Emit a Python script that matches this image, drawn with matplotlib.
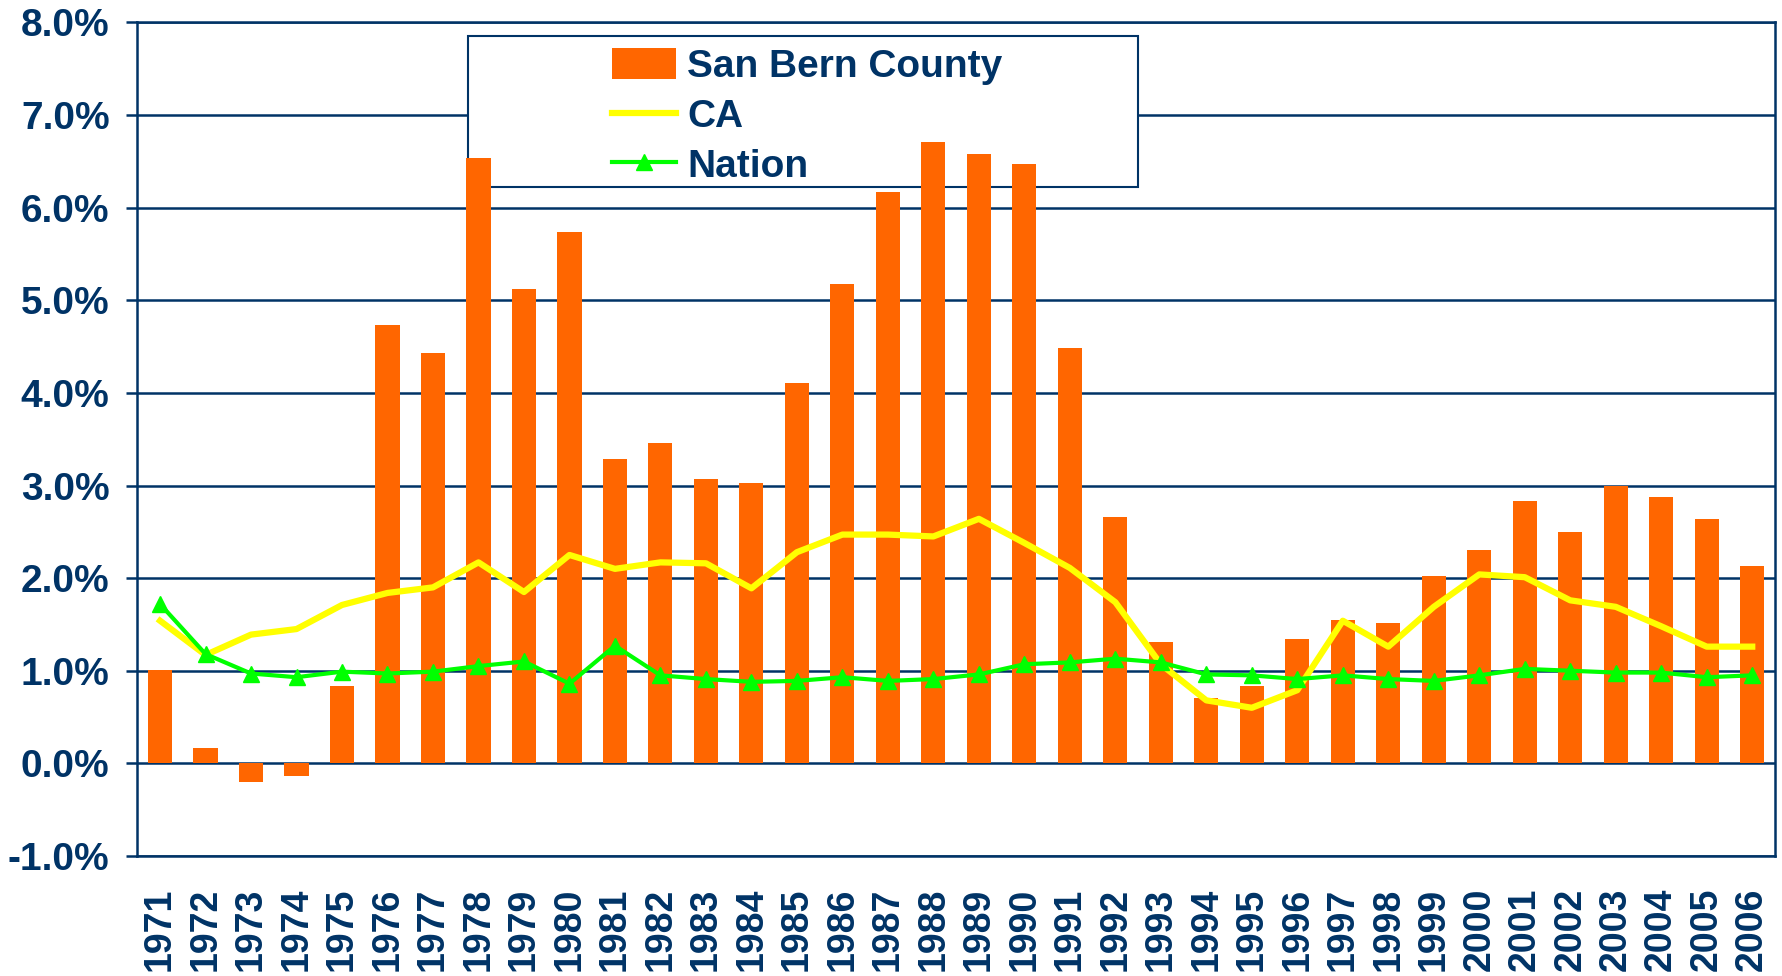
import numpy as np
import matplotlib
matplotlib.use("Agg")
import matplotlib.pyplot as plt
from matplotlib.patches import Rectangle
from matplotlib.ticker import FuncFormatter

# Annual growth rates (%)
years = [str(y) for y in range(1971, 2007)]

san_bern = [1.01, 0.17, -0.20, -0.14, 0.83, 4.73, 4.43, 6.54, 5.12, 5.74,
            3.29, 3.46, 3.07, 3.03, 4.11, 5.18, 6.17, 6.71, 6.58, 6.47,
            4.49, 2.66, 1.31, 0.71, 0.84, 1.34, 1.55, 1.51, 2.02, 2.30,
            2.83, 2.50, 2.99, 2.88, 2.64, 2.13]

ca = [1.54, 1.17, 1.39, 1.45, 1.71, 1.84, 1.90, 2.17, 1.85, 2.25,
      2.10, 2.17, 2.16, 1.89, 2.28, 2.47, 2.47, 2.45, 2.64, 2.38,
      2.11, 1.74, 1.07, 0.68, 0.60, 0.79, 1.54, 1.26, 1.69, 2.04,
      2.01, 1.76, 1.69, 1.48, 1.26, 1.26]

nation = [1.72, 1.18, 0.97, 0.93, 0.99, 0.97, 0.99, 1.05, 1.10, 0.86,
          1.27, 0.95, 0.91, 0.88, 0.89, 0.93, 0.89, 0.91, 0.96, 1.07,
          1.09, 1.13, 1.09, 0.96, 0.95, 0.91, 0.95, 0.91, 0.89, 0.95,
          1.02, 1.00, 0.98, 0.98, 0.93, 0.95]

navy = "#003366"
plt.rcParams['font.family'] = ['Liberation Sans', 'DejaVu Sans']
plt.rcParams['font.weight'] = 'bold'

fig = plt.figure(figsize=(17.83, 9.76), dpi=100)
ax = fig.add_axes([0.077, 0.123, 0.9185, 0.854])

x = np.arange(len(years))

# legend box sits above the grid but below the bars
ax.add_patch(Rectangle((0.202, 0.802), 0.409, 0.182, transform=ax.transAxes,
                       facecolor='white', edgecolor=navy, linewidth=1.5, zorder=1))

bars = ax.bar(x, san_bern, width=0.53, color='#FF6600', label='San Bern County', zorder=2)
l_ca, = ax.plot(x, ca, color='#FFFF00', linewidth=4.5, label='CA', zorder=3)
l_nat, = ax.plot(x, nation, color='#00FF00', linewidth=3, marker='^', markersize=12,
                 label='Nation', zorder=4)

ax.set_xlim(-0.5, len(years) - 0.5)
ax.set_ylim(-1, 8)
ax.set_yticks(np.arange(-1, 9, 1))
ax.yaxis.set_major_formatter(FuncFormatter(lambda v, p: "%.1f%%" % v))
ax.set_xticks(x)
ax.set_xticklabels(years, rotation=90)

ax.grid(axis='y', color=navy, linewidth=1.8, zorder=0)
ax.set_axisbelow(True)
for s in ax.spines.values():
    s.set_color(navy)
    s.set_linewidth(1.8)

ax.tick_params(axis='y', colors=navy, labelsize=28, length=8, width=1.8, pad=12)
ax.tick_params(axis='x', colors=navy, labelsize=27, length=0, pad=23)

leg = ax.legend([bars, l_ca, l_nat], ['San Bern County', 'CA', 'Nation'],
                loc='upper left', bbox_to_anchor=(0.29, 0.969), frameon=False,
                fontsize=28, handlelength=1.63, handleheight=0.85, handletextpad=0.3,
                labelspacing=0.33, borderpad=0, borderaxespad=0)
for t in leg.get_texts():
    t.set_color(navy)
leg.set_zorder(5)

fig.savefig("out.png", dpi=100)
